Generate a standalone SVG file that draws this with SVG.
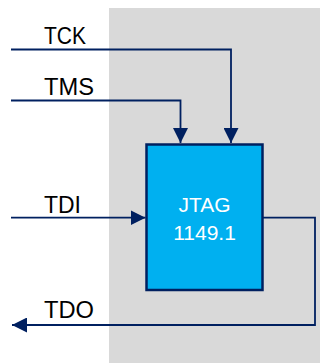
<svg xmlns="http://www.w3.org/2000/svg" width="320" height="363" viewBox="0 0 320 363">
<defs>
<style>
.wire{fill:none;stroke:#002060;stroke-width:1.8;}
.lbl{font-family:"Liberation Sans",Arial,sans-serif;font-size:24px;fill:#000;}
.in{font-family:"Liberation Sans",Arial,sans-serif;font-size:21px;fill:#fff;text-anchor:middle;}
</style>
<marker id="ah" viewBox="0 0 10 10" refX="10" refY="5" markerWidth="15" markerHeight="15" markerUnits="userSpaceOnUse" orient="auto">
<path d="M0,0 L10,5 L0,10 Z" fill="#002060"/>
</marker>
</defs>
<rect x="109" y="8" width="211" height="355" fill="#d9d9d9"/>
<g id="connectors">
<path class="wire" d="M11,49.5 H231 V143" marker-end="url(#ah)"/>
<path class="wire" d="M11,100.5 H180.5 V143" marker-end="url(#ah)"/>
<path class="wire" d="M11,217.7 H145.5" marker-end="url(#ah)"/>
<path class="wire" d="M263,217.7 H315 V325 H12" marker-end="url(#ah)"/>
</g>
<g id="labels">
<text class="lbl" x="44" y="44" textLength="42" lengthAdjust="spacingAndGlyphs">TCK</text>
<text class="lbl" x="44" y="95" textLength="50" lengthAdjust="spacingAndGlyphs">TMS</text>
<text class="lbl" x="44" y="212.5" textLength="37" lengthAdjust="spacingAndGlyphs">TDI</text>
<text class="lbl" x="44" y="317.5" textLength="50" lengthAdjust="spacingAndGlyphs">TDO</text>
</g>
<g id="jtag">
<rect x="146.5" y="144.5" width="116" height="145.5" fill="#00b0f0" stroke="#002060" stroke-width="2.5"/>
<text class="in" x="204.5" y="211.5">JTAG</text>
<text class="in" x="204.5" y="239.5">1149.1</text>
</g>
</svg>
